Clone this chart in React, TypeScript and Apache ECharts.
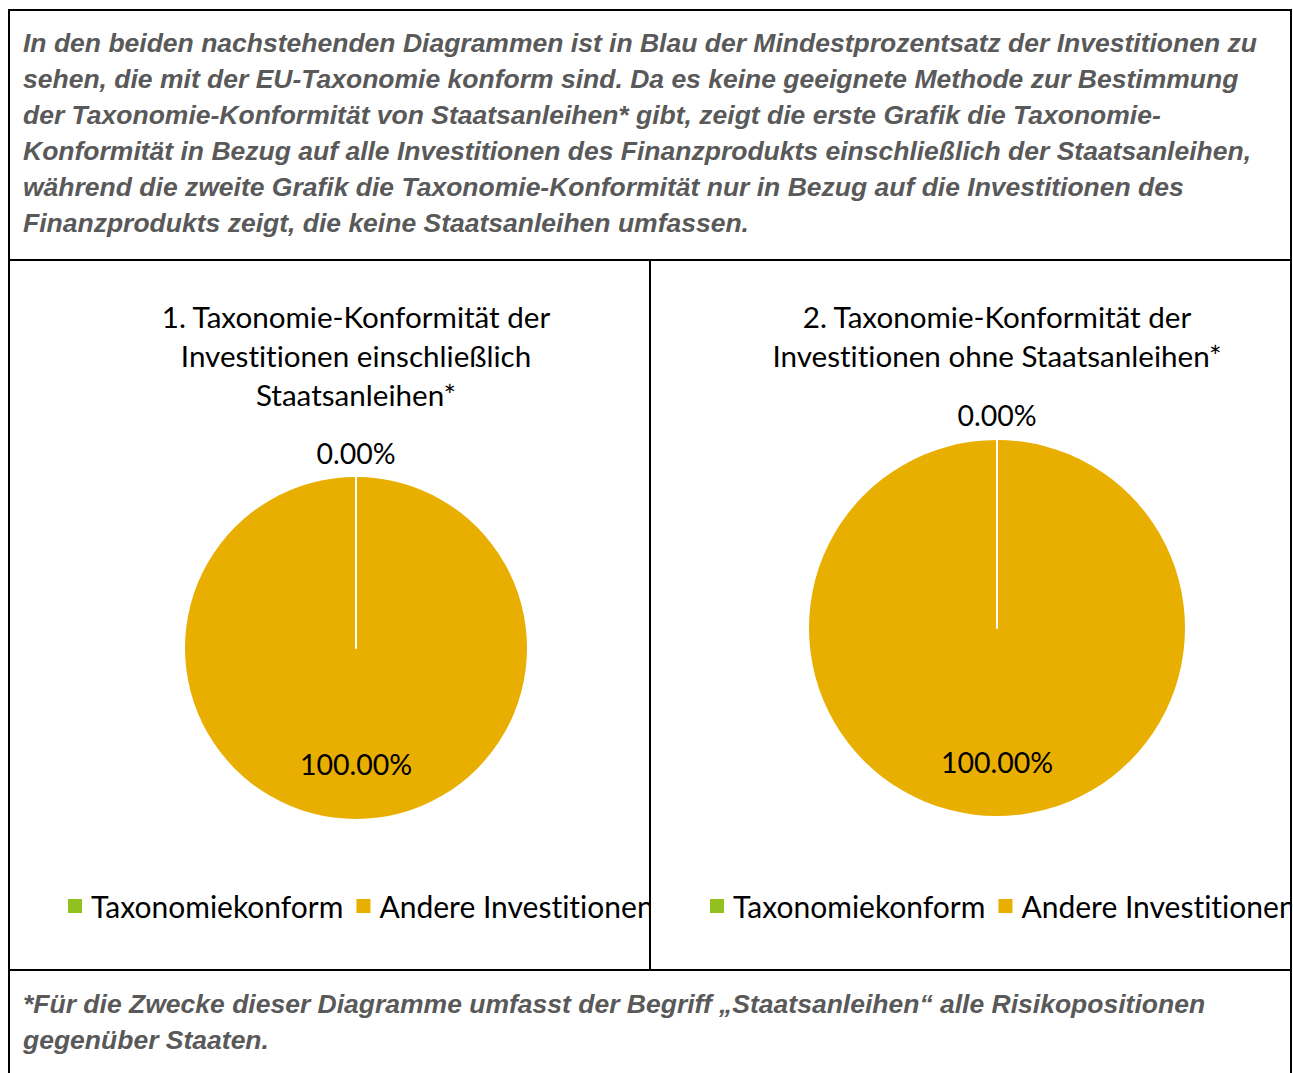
import React, { useEffect, useRef } from "react";
import * as echarts from "echarts";

const categories = ["Taxonomiekonform", "Andere Investitionen"];
const chart1Values = [0, 100];
const chart2Values = [0, 100];
const sliceColors = ["#92C01F", "#E8AE00"];
const chartTitles = [
  "1. Taxonomie-Konformität der\nInvestitionen einschließlich\nStaatsanleihen*",
  "2. Taxonomie-Konformität der\nInvestitionen ohne Staatsanleihen*",
];
const headerLines = [
  "In den beiden nachstehenden Diagrammen ist in Blau der Mindestprozentsatz der Investitionen zu",
  "sehen, die mit der EU-Taxonomie konform sind. Da es keine geeignete Methode zur Bestimmung",
  "der Taxonomie-Konformität von Staatsanleihen* gibt, zeigt die erste Grafik die Taxonomie-",
  "Konformität in Bezug auf alle Investitionen des Finanzprodukts einschließlich der Staatsanleihen,",
  "während die zweite Grafik die Taxonomie-Konformität nur in Bezug auf die Investitionen des",
  "Finanzprodukts zeigt, die keine Staatsanleihen umfassen.",
];
const footerLines = [
  "*Für die Zwecke dieser Diagramme umfasst der Begriff „Staatsanleihen“ alle Risikopositionen",
  "gegenüber Staaten.",
];

const FONT = "Lato, 'Noto Sans', sans-serif";
const NOTE_FONT = "Liberation Sans";

function buildData(values: number[], innerOffset: number, outerOffset: number) {
  // draw the big slice first so the zero slice's white edge stays on top
  const order = [1, 0];
  return order.map((i) => ({
    name: categories[i],
    value: values[i],
    itemStyle:
      i === 0
        ? { color: sliceColors[i], borderColor: "#ffffff", borderWidth: 2 }
        : { color: sliceColors[i], borderWidth: 0 },
    label:
      i === 0
        ? { position: "inside", offset: [0, outerOffset] }
        : { position: "inside", offset: [0, innerOffset] },
  }));
}

export default function App() {
  const ref = useRef<HTMLDivElement>(null);
  useEffect(() => {
    document.body.style.margin = "0";
    const chart = echarts.init(ref.current!, null, { renderer: "svg" });
    const labelStyle = {
      show: true,
      color: "#000000",
      fontFamily: FONT,
      fontSize: 28.5,
      formatter: (p: any) => `${Number(p.value).toFixed(2)}%`,
    };
    const noteText = (lines: string[], top: number) =>
      lines.map((t, k) => ({
        type: "text",
        x: 23,
        y: top + k * 36,
        z: 50,
        style: {
          text: t,
          fill: "#595959",
          fontFamily: NOTE_FONT,
          fontSize: 26.5,
          fontWeight: "bold",
          fontStyle: "italic",
          verticalAlign: "middle",
        },
      }));
    const line = (x1: number, y1: number, x2: number, y2: number) => ({
      type: "line",
      z: 120,
      shape: { x1, y1, x2, y2 },
      style: { stroke: "#000000", lineWidth: 2 },
    });
    const titleStyle = { fontFamily: FONT, fontSize: 29.6, fontWeight: "normal", color: "#000000", lineHeight: 39 };
    const legendBase = {
      data: categories,
      top: 891,
      width: 1000,
      orient: "horizontal",
      itemWidth: 14,
      itemHeight: 14,
      itemGap: 13,
      icon: "rect",
      padding: 0,
      selectedMode: false,
      itemStyle: { borderWidth: 0 },
      textStyle: { fontFamily: FONT, fontSize: 30, color: "#000000", padding: [0, 0, 0, 4] },
    };
    chart.setOption({
      animation: false,
      title: [
        { text: chartTitles[0], left: 356, top: 297, textAlign: "center", padding: 0, textStyle: titleStyle },
        { text: chartTitles[1], left: 997, top: 297, textAlign: "center", padding: 0, textStyle: titleStyle },
      ],
      legend: [
        { ...legendBase, left: 68 },
        { ...legendBase, left: 710 },
      ],
      series: [
        {
          type: "pie",
          center: [356, 648],
          radius: 171,
          startAngle: 90,
          clockwise: true,
          avoidLabelOverlap: false,
          labelLine: { show: false },
          label: labelStyle,
          emphasis: { disabled: true },
          data: buildData(chart1Values, 27, -107),
        },
        {
          type: "pie",
          center: [997, 628],
          radius: 188,
          startAngle: 90,
          clockwise: true,
          avoidLabelOverlap: false,
          labelLine: { show: false },
          label: labelStyle,
          emphasis: { disabled: true },
          data: buildData(chart2Values, 37, -116),
        },
      ],
      graphic: [
        ...noteText(headerLines, 43),
        ...noteText(footerLines, 1004),
        { type: "rect", z: 110, shape: { x: 651, y: 880, width: 58, height: 50 }, style: { fill: "#ffffff" } },
        { type: "rect", z: 110, shape: { x: 1292, y: 880, width: 10, height: 50 }, style: { fill: "#ffffff" } },
        line(9, 10, 1291, 10),
        line(9, 9, 9, 1073),
        line(1291, 9, 1291, 1073),
        line(9, 260, 1291, 260),
        line(9, 970, 1291, 970),
        line(650, 260, 650, 970),
      ],
    });
    return () => chart.dispose();
  }, []);
  return (
    <>
      <style>{"svg text{font-variant-ligatures:none;font-feature-settings:'liga' 0;}"}</style>
      <div
        ref={ref}
        style={{ position: "absolute", left: 0, top: 0, width: 1293, height: 1073, background: "#ffffff" }}
      />
    </>
  );
}
